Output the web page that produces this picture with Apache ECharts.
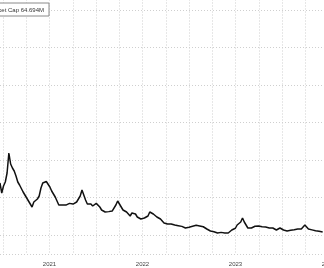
<!DOCTYPE html>
<html>
<head>
<meta charset="utf-8">
<script src="https://cdn.jsdelivr.net/npm/echarts@6/dist/echarts.min.js"></script>
<style>html,body{margin:0;padding:0;background:#fff;}#c{width:324px;height:268px;}</style>
</head>
<body>
<div id="c"></div>
<script>
var seriesName = 'Market Cap';
var lastLabel = '64.694M';
var startDate = '2020-12-20';   // weekly observations from this date
var yearLabels = ['2020', '2021', '2022', '2023', '2024'];
var marketCap = [
 143.2,127.2,138.4,144.8,159.2,191.2,173.6,167.2,162.4,154.4,
 144.8,140,136.8,128.8,124,120.8,114.4,109.6,104.8,112.8,
 112.8,117.6,122.4,135.2,143.2,140.8,145.6,148,136.8,130.4,
 125.6,120.8,117.6,108,106.4,108.2,105.6,107.9,108,110.6,
 111.2,109.5,111.6,112.8,116,122.4,132,124,116,109.6,
 108,109.7,106.4,108,110.6,109.1,104.8,100,98.4,96.8,
 98.3,97.4,96.8,98.5,101.6,108,114.4,109.6,104.8,100,
 98.4,96.8,95.2,90.4,95.2,92,93.6,88.8,87.2,85.6,
 86.1,87.2,88.8,90.4,96.8,100,93.6,90.4,88.8,87.2,
 85.6,82.4,79.2,76,77.6,75.8,77.6,76.1,76,74.4,
 74.9,72.8,73.8,72.8,71.2,72.8,72.5,74.4,74,76,
 75.5,76.3,74.4,72.8,73.2,71.2,69.6,68,66.4,64.8,
 65.2,64.8,63.2,64.8,64.2,64.8,63.2,64.8,63.2,63.6,
 68,71.2,70.8,76,79.2,80.8,87.2,80.8,77.6,71.2,
 68,71.2,74.4,74,76,74.4,72.8,73.3,71.2,72.8,
 72.5,71.2,71.6,71.2,69.6,68,69.6,71.2,69.6,68,
 68.4,66.4,68,67.6,68,68.3,68,69.6,69.2,69.6,
 72.8,76,74.4,69.6,68,68.2,66.4,66.8,66.4,66.1,
 66.4,64.694
];

function fracYear(ms) {
  var d = new Date(ms);
  var y = d.getUTCFullYear();
  var a = Date.UTC(y, 0, 1), b = Date.UTC(y + 1, 0, 1);
  return y + (ms - a) / (b - a);
}
var t0 = Date.parse(startDate + 'T00:00:00Z');
var data = marketCap.map(function (v, i) {
  return [fracYear(t0 + i * 7 * 86400000), v];
});

var gridColor = '#cfcfcf';
var chart = echarts.init(document.getElementById('c'), null, {renderer: 'canvas'});
chart.setOption({
  animation: false,
  backgroundColor: '#ffffff',
  textStyle: {fontFamily: 'Liberation Sans, Arial, sans-serif'},
  legend: {
    left: -20, top: 3,
    padding: [3, 5, 3, 3],
    itemWidth: 0, itemHeight: 8,
    icon: 'none',
    borderColor: '#8a8a8a', borderWidth: 1,
    backgroundColor: '#ffffff',
    textStyle: {fontSize: 6, color: '#333', fontFamily: 'Liberation Sans, Arial, sans-serif'},
    formatter: function (n) { return n + ' ' + lastLabel; },
    data: [seriesName]
  },
  grid: {left: -90, right: -4.5, top: -27.5, bottom: 14, containLabel: false, outerBoundsMode: 'none'},
  xAxis: [{
    type: 'value', min: 2020, max: 2024.5, interval: 0.25,
    axisLine: {show: true, lineStyle: {color: '#a8a8a8', width: 1}},
    axisTick: {show: true, length: 2, lineStyle: {color: '#a8a8a8'}},
    minorTick: {show: true, splitNumber: 3, length: 2, lineStyle: {color: '#a8a8a8'}},
    splitLine: {show: true, lineStyle: {color: gridColor, type: [1, 2], width: 1}},
    minorSplitLine: {show: false},
    axisLabel: {
      show: true, fontSize: 6, color: '#444', margin: 7,
      showMinLabel: true, showMaxLabel: true,
      formatter: function (v) {
        var f = Math.floor(v + 1e-9);
        if (Math.abs(v - f - 0.5) < 1e-6) {
          var idx = f - 2020;
          return yearLabels[idx] !== undefined ? yearLabels[idx] : String(f);
        }
        return '';
      }
    }
  }, {
    type: 'value', min: 2020, max: 2024.5, interval: 1, offset: 7,
    axisLine: {show: false},
    axisTick: {show: true, length: 8, lineStyle: {color: '#a8a8a8', width: 1}},
    axisLabel: {show: false},
    splitLine: {show: false}
  }],
  yAxis: [{
    type: 'value', min: 29.6, max: 480,
    axisLine: {show: false}, axisTick: {show: false}, axisLabel: {show: false},
    splitLine: {show: false}
  }, {
    type: 'value', inverse: true, min: 0, max: 7.5067, interval: 1,
    axisLine: {show: false}, axisTick: {show: false}, axisLabel: {show: false},
    splitLine: {show: true, lineStyle: {color: gridColor, type: [1, 2], width: 1}}
  }],
  series: [{
    name: seriesName,
    type: 'line',
    xAxisIndex: 0, yAxisIndex: 0,
    data: data,
    showSymbol: false,
    symbol: 'none',
    lineStyle: {color: '#111111', width: 1.5},
    itemStyle: {color: '#111111'}
  }]
});
</script>
</body>
</html>
